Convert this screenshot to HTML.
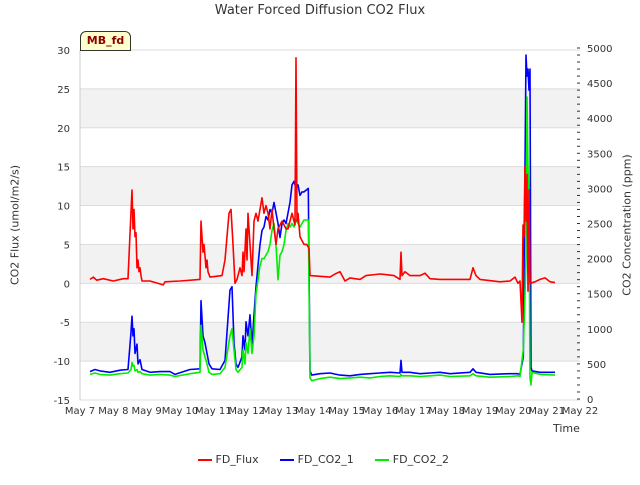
<!DOCTYPE html>
<html><head><meta charset="utf-8"><style>
body{margin:0;background:#fff;font-family:"Liberation Sans","DejaVu Sans",sans-serif}
</style></head><body>
<svg id="chart" width="640" height="480" xmlns="http://www.w3.org/2000/svg" font-family="DejaVu Sans, Liberation Sans, sans-serif">
<g id="bands"></g><g id="grid"></g><g id="series"></g><g id="axes"></g>
</svg>
<script>
const xTicks=["May 7","May 8","May 9","May 10","May 11","May 12","May 13","May 14","May 15","May 16","May 17","May 18","May 19","May 20","May 21","May 22"];
const leftTicks=[-15,-10,-5,0,5,10,15,20,25,30];
const rightTicks=[0,500,1000,1500,2000,2500,3000,3500,4000,4500,5000];
// days since May 7
const fluxT=[0.3,0.4,0.5,0.7,1.0,1.3,1.44,1.56,1.59,1.62,
1.65,1.68,1.71,1.74,1.77,1.8,1.83,1.86,2.1,2.5,
2.55,3.0,3.6,3.63,3.69,3.72,3.78,3.81,3.84,3.9,
4.26,4.35,4.47,4.53,4.59,4.65,4.71,4.8,4.86,4.89,
4.92,4.98,5.01,5.04,5.1,5.16,5.22,5.28,5.34,5.4,
5.46,5.52,5.58,5.64,5.7,5.76,5.82,5.88,5.94,6.0,
6.06,6.12,6.18,6.24,6.3,6.36,6.45,6.48,6.51,6.54,
6.6,6.66,6.72,6.8,6.87,6.9,7.5,7.65,7.8,7.95,
8.1,8.4,8.58,9.0,9.42,9.6,9.63,9.66,9.75,9.9,
10.2,10.35,10.5,10.8,11.7,11.79,11.88,12.0,12.6,12.9,
13.05,13.14,13.2,13.26,13.29,13.32,13.35,13.38,13.41,13.44,
13.47,13.5,13.65,13.8,13.95,14.1,14.25];
const fluxV=[0.5,0.8,0.4,0.6,0.3,0.6,0.6,12,7,9.5,
6,6.5,2,3,1.5,2,1,0.3,0.3,-0.2,
0.2,0.3,0.5,8,4,5,2,3,1.5,0.8,
1,3,9,9.5,5,0,0.5,2,1,4,
1.5,7,3,9,5,1,8,9,8,9.5,
11,9,10,9,7,9.5,7,5,7,7.5,
8,7.5,7,7,8,9,7.5,29,8,9,
6,5.5,5,5,4.5,1,0.8,1.2,1.5,0.3,
0.7,0.5,1,1.2,1,0.5,4,1,1.5,1,
1,1.3,0.6,0.5,0.5,2,1,0.5,0.2,0.3,
0.8,0,0.3,-5,7.5,6,15,8,14,-1,
12,0,0.2,0.5,0.7,0.2,0.1];
const co2T=[0.3,0.45,0.6,0.9,1.2,1.44,1.53,1.56,1.59,1.62,
1.65,1.71,1.74,1.8,1.86,2.1,2.4,2.7,2.85,3.3,
3.6,3.63,3.69,3.75,3.81,3.87,3.96,4.2,4.35,4.5,
4.56,4.62,4.68,4.74,4.86,4.89,4.95,4.98,5.04,5.1,
5.16,5.22,5.28,5.34,5.4,5.46,5.52,5.58,5.64,5.7,
5.76,5.82,5.88,5.94,6.0,6.06,6.12,6.18,6.24,6.3,
6.36,6.42,6.48,6.54,6.6,6.66,6.72,6.85,6.9,6.95,
7.2,7.5,7.8,8.1,8.4,8.7,9.0,9.3,9.6,9.63,
9.66,9.9,10.2,10.5,10.8,11.1,11.7,11.79,11.88,12.3,
12.9,13.14,13.2,13.3,13.38,13.41,13.44,13.47,13.5,13.53,
13.56,13.8,14.25];
const co2aV=[390,420,400,380,410,420,950,1180,900,1000,
650,780,500,560,420,380,390,390,350,420,
430,1400,900,800,650,500,430,420,550,1550,
1600,800,500,450,600,900,700,1100,900,1200,
750,1200,1600,1900,2200,2400,2450,2600,2550,2700,
2650,2800,2650,2500,2300,2500,2550,2500,2650,2800,
3050,3100,3000,3050,2900,2950,2950,3000,400,340,
360,370,340,330,350,360,370,380,370,550,
380,380,360,370,380,360,380,430,380,350,
360,360,350,600,4900,4600,4700,4400,4700,450,
400,380,380];
const co2bV=[350,370,350,340,360,370,420,520,470,480,
400,420,380,390,360,340,350,340,320,360,
380,1050,700,600,500,380,350,360,450,900,
1000,700,420,380,450,700,500,800,650,1000,
650,900,1500,1700,1900,2000,2000,2050,2100,2200,
2400,2500,2200,1700,2050,2100,2200,2400,2500,2450,
2500,2450,2550,2500,2450,2500,2550,2550,300,260,
290,310,290,300,310,300,320,330,320,350,
330,330,320,330,340,320,330,360,330,310,
320,330,320,700,2000,4300,3300,2800,300,200,
380,350,340];
const NS="http://www.w3.org/2000/svg";
const L=80,R=580,T=50,B=400;
const xs=d=>L+d*(R-L)/15;
const yl=v=>B-(v+15)*(B-T)/45;
const yr=v=>399-v*(399-48)/5000;
function mk(tag,attrs,parent,text){const e=document.createElementNS(NS,tag);for(const k in attrs)e.setAttribute(k,attrs[k]);if(text!==undefined)e.textContent=text;parent.appendChild(e);return e;}
const bands=document.getElementById('bands'),grid=document.getElementById('grid'),ser=document.getElementById('series'),ax=document.getElementById('axes');
for(let i=0;i<leftTicks.length-1;i++){
  if(i%2===1){const b=mk('rect',{x:L,y:yl(leftTicks[i+1]),width:R-L,height:yl(leftTicks[i])-yl(leftTicks[i+1]),fill:'#f2f2f2'},bands);
  
  }
}
leftTicks.forEach(v=>{const g=mk('line',{x1:L,x2:R,y1:yl(v),y2:yl(v),stroke:'#dcdcdc','stroke-width':1},grid);


const t=mk('text',{x:L-10,y:yl(v)+4,'text-anchor':'end','font-size':10,fill:'#333'},ax,String(v));

});
mk('line',{x1:L,x2:L,y1:T,y2:B,stroke:'#ccc'},ax);
rightTicks.forEach(v=>{const t=mk('text',{x:R+7,y:yr(v)+4,'font-size':10,fill:'#333'},ax,String(v));

});
for(let v=0;v<=5000;v+=100){mk('line',{x1:R-3,x2:R,y1:yr(v),y2:yr(v),stroke:'#333','stroke-width':1},ax);}
xTicks.forEach((s,i)=>{const t=mk('text',{x:xs(i),y:414,'text-anchor':'middle','font-size':10,fill:'#333'},ax,s);

});
function line(T_,V,f,color,name){const n=Math.min(T_.length,V.length);const pts=[];for(let i=0;i<n;i++)pts.push(xs(T_[i]).toFixed(1)+','+f(V[i]).toFixed(1));
const p=mk('polyline',{points:pts.join(' '),fill:'none',stroke:color,'stroke-width':1.6,'stroke-linejoin':'round'},ser);

}
line(co2T,co2aV,yr,'#0000ff','fd-co2-1-line');
line(co2T,co2bV,yr,'#00ee00','fd-co2-2-line');
line(fluxT,fluxV,yl,'#ff0000','fd-flux-line');
</script>
<div style="position:absolute;left:0;top:0;width:640px;height:480px;pointer-events:none">
<div style="position:absolute;left:0;width:640px;top:3px;text-align:center;font-size:13px;color:#333;font-family:'DejaVu Sans',sans-serif">Water Forced Diffusion CO2 Flux</div>
<div style="position:absolute;left:80px;top:31px;width:49px;height:18px;background:#ffffcc;border:1px solid #333;border-radius:6px 6px 0 0;font-size:11px;font-weight:bold;color:#8b0000;text-align:center;line-height:18px;font-family:'DejaVu Sans',sans-serif">MB_fd</div>
<div style="position:absolute;left:15px;top:225px;transform:translate(-50%,-50%) rotate(-90deg);white-space:nowrap;font-size:11px;color:#333;font-family:'DejaVu Sans',sans-serif">CO2 Flux (umol/m2/s)</div>
<div style="position:absolute;left:627px;top:225px;transform:translate(-50%,-50%) rotate(-90deg);white-space:nowrap;font-size:11px;color:#333;font-family:'DejaVu Sans',sans-serif">CO2 Concentration (ppm)</div>
<div style="position:absolute;left:553px;top:422px;font-size:11px;color:#333;font-family:'DejaVu Sans',sans-serif">Time</div>
<div style="position:absolute;left:198px;top:453px;font-size:11px;color:#333;font-family:'DejaVu Sans',sans-serif;white-space:nowrap">
<span><span style="display:inline-block;width:14px;border-top:2px solid #f00;vertical-align:middle"></span> FD_Flux</span>
<span style="margin-left:18px"><span style="display:inline-block;width:14px;border-top:2px solid #00f;vertical-align:middle"></span> FD_CO2_1</span>
<span style="margin-left:18px"><span style="display:inline-block;width:14px;border-top:2px solid #0e0;vertical-align:middle"></span> FD_CO2_2</span>
</div>
</div>
</body></html>
